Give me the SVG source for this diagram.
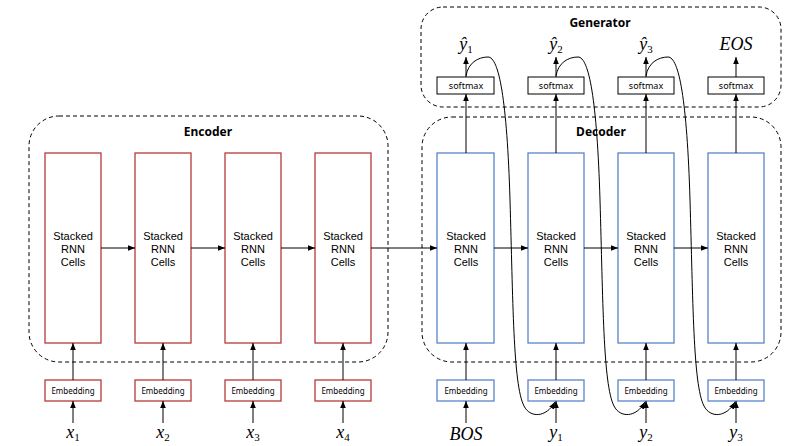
<svg xmlns="http://www.w3.org/2000/svg" width="800" height="446" viewBox="0 0 800 446">
<defs>
<marker id="ah" viewBox="0 0 10 10" refX="10" refY="5" markerWidth="7" markerHeight="7" markerUnits="userSpaceOnUse" orient="auto">
<path d="M0,1 L10,5 L0,9 z" fill="#000"/>
</marker>
<style>
.grp{fill:none;stroke:#000;stroke-width:1;stroke-dasharray:4,3}
.enc{fill:#fff;stroke:#b53a3a;stroke-width:1.3}
.dec{fill:#fff;stroke:#5a84c8;stroke-width:1.3}
.sm{fill:#fff;stroke:#000;stroke-width:1}
.t{font-family:"Liberation Sans",Arial,sans-serif;font-size:11px;text-anchor:middle;fill:#000}
.e{font-family:"Noto Sans","Open Sans",sans-serif;font-size:8px;text-anchor:middle;fill:#000}
.s{font-family:"Noto Sans","Open Sans",sans-serif;font-size:9px;text-anchor:middle;fill:#000}
.h{font-family:"Noto Sans","Open Sans",sans-serif;font-size:12px;font-weight:bold;text-anchor:middle;fill:#000}
.m{font-family:"Liberation Serif","DejaVu Serif",serif;font-style:italic;font-size:18px;text-anchor:middle;fill:#000}
.sub{font-size:11px;font-style:normal}
.c{fill:none;stroke:#000;stroke-width:1}
</style>
</defs>
<rect width="800" height="446" fill="#fff"/>

<g id="encoder-group">
<rect class="grp" x="29" y="116" width="359" height="246" rx="30"/>
<text class="h" x="208" y="136">Encoder</text>
</g>
<g id="decoder-group">
<rect class="grp" x="422" y="117" width="359" height="245" rx="30"/>
<text class="h" x="601" y="136">Decoder</text>
</g>
<g id="generator-group">
<rect class="grp" x="421" y="7" width="360" height="100" rx="22"/>
<text class="h" x="600" y="27">Generator</text>
</g>

<g id="enc1"><rect class="enc" x="45" y="153" width="56" height="190"/><text class="t" x="73" y="240">Stacked</text><text class="t" x="73" y="253">RNN</text><text class="t" x="73" y="266">Cells</text></g>
<g id="enc2"><rect class="enc" x="135" y="153" width="56" height="190"/><text class="t" x="163" y="240">Stacked</text><text class="t" x="163" y="253">RNN</text><text class="t" x="163" y="266">Cells</text></g>
<g id="enc3"><rect class="enc" x="225" y="153" width="56" height="190"/><text class="t" x="253" y="240">Stacked</text><text class="t" x="253" y="253">RNN</text><text class="t" x="253" y="266">Cells</text></g>
<g id="enc4"><rect class="enc" x="315" y="153" width="56" height="190"/><text class="t" x="343" y="240">Stacked</text><text class="t" x="343" y="253">RNN</text><text class="t" x="343" y="266">Cells</text></g>

<g id="dec1"><rect class="dec" x="437" y="153" width="57" height="190"/><text class="t" x="466" y="240">Stacked</text><text class="t" x="466" y="253">RNN</text><text class="t" x="466" y="266">Cells</text></g>
<g id="dec2"><rect class="dec" x="528" y="153" width="56" height="190"/><text class="t" x="556" y="240">Stacked</text><text class="t" x="556" y="253">RNN</text><text class="t" x="556" y="266">Cells</text></g>
<g id="dec3"><rect class="dec" x="618" y="153" width="56" height="190"/><text class="t" x="646" y="240">Stacked</text><text class="t" x="646" y="253">RNN</text><text class="t" x="646" y="266">Cells</text></g>
<g id="dec4"><rect class="dec" x="708" y="153" width="56" height="190"/><text class="t" x="736" y="240">Stacked</text><text class="t" x="736" y="253">RNN</text><text class="t" x="736" y="266">Cells</text></g>

<g id="emb-e1"><rect class="enc" x="45" y="380" width="56" height="21"/><text class="e" x="73" y="393.5">Embedding</text></g>
<g id="emb-e2"><rect class="enc" x="135" y="380" width="56" height="21"/><text class="e" x="163" y="393.5">Embedding</text></g>
<g id="emb-e3"><rect class="enc" x="225" y="380" width="56" height="21"/><text class="e" x="253" y="393.5">Embedding</text></g>
<g id="emb-e4"><rect class="enc" x="315" y="380" width="56" height="21"/><text class="e" x="343" y="393.5">Embedding</text></g>

<g id="emb-d1"><rect class="dec" x="437" y="380" width="57" height="21"/><text class="e" x="466" y="393.5">Embedding</text></g>
<g id="emb-d2"><rect class="dec" x="528" y="380" width="56" height="21"/><text class="e" x="556" y="393.5">Embedding</text></g>
<g id="emb-d3"><rect class="dec" x="618" y="380" width="56" height="21"/><text class="e" x="646" y="393.5">Embedding</text></g>
<g id="emb-d4"><rect class="dec" x="708" y="380" width="56" height="21"/><text class="e" x="736" y="393.5">Embedding</text></g>

<g id="sm1"><rect class="sm" x="437" y="77" width="57" height="17"/><text class="s" x="466" y="88.5">softmax</text></g>
<g id="sm2"><rect class="sm" x="528" y="77" width="56" height="17"/><text class="s" x="556" y="88.5">softmax</text></g>
<g id="sm3"><rect class="sm" x="618" y="77" width="56" height="17"/><text class="s" x="646" y="88.5">softmax</text></g>
<g id="sm4"><rect class="sm" x="708" y="77" width="56" height="17"/><text class="s" x="736" y="88.5">softmax</text></g>

<g id="labels">
<text class="m" x="73" y="438">x<tspan class="sub" dy="3">1</tspan></text>
<text class="m" x="163" y="438">x<tspan class="sub" dy="3">2</tspan></text>
<text class="m" x="253" y="438">x<tspan class="sub" dy="3">3</tspan></text>
<text class="m" x="343" y="438">x<tspan class="sub" dy="3">4</tspan></text>
<text class="m" x="466" y="440">BOS</text>
<text class="m" x="556" y="438">y<tspan class="sub" dy="3">1</tspan></text>
<text class="m" x="646" y="438">y<tspan class="sub" dy="3">2</tspan></text>
<text class="m" x="736" y="438">y<tspan class="sub" dy="3">3</tspan></text>
<text class="m" x="466" y="50">ŷ<tspan class="sub" dy="3">1</tspan></text>
<text class="m" x="556" y="50">ŷ<tspan class="sub" dy="3">2</tspan></text>
<text class="m" x="646" y="50">ŷ<tspan class="sub" dy="3">3</tspan></text>
<text class="m" x="736" y="50">EOS</text>
</g>

<g id="connectors" class="c" stroke="#000" fill="none">
<line x1="101" y1="248" x2="135" y2="248" marker-end="url(#ah)"/>
<line x1="191" y1="248" x2="225" y2="248" marker-end="url(#ah)"/>
<line x1="281" y1="248" x2="315" y2="248" marker-end="url(#ah)"/>
<line x1="371" y1="248" x2="437" y2="248" marker-end="url(#ah)"/>
<line x1="494" y1="248" x2="528" y2="248" marker-end="url(#ah)"/>
<line x1="584" y1="248" x2="618" y2="248" marker-end="url(#ah)"/>
<line x1="674" y1="248" x2="708" y2="248" marker-end="url(#ah)"/>

<line x1="73" y1="380" x2="73" y2="343" marker-end="url(#ah)"/>
<line x1="163" y1="380" x2="163" y2="343" marker-end="url(#ah)"/>
<line x1="253" y1="380" x2="253" y2="343" marker-end="url(#ah)"/>
<line x1="343" y1="380" x2="343" y2="343" marker-end="url(#ah)"/>
<line x1="466" y1="380" x2="466" y2="343" marker-end="url(#ah)"/>
<line x1="556" y1="380" x2="556" y2="343" marker-end="url(#ah)"/>
<line x1="646" y1="380" x2="646" y2="343" marker-end="url(#ah)"/>
<line x1="736" y1="380" x2="736" y2="343" marker-end="url(#ah)"/>

<line x1="73" y1="423" x2="73" y2="401" marker-end="url(#ah)"/>
<line x1="163" y1="423" x2="163" y2="401" marker-end="url(#ah)"/>
<line x1="253" y1="423" x2="253" y2="401" marker-end="url(#ah)"/>
<line x1="343" y1="423" x2="343" y2="401" marker-end="url(#ah)"/>
<line x1="466" y1="423" x2="466" y2="401" marker-end="url(#ah)"/>
<line x1="556" y1="423" x2="556" y2="401" marker-end="url(#ah)"/>
<line x1="646" y1="423" x2="646" y2="401" marker-end="url(#ah)"/>
<line x1="736" y1="423" x2="736" y2="401" marker-end="url(#ah)"/>

<line x1="466" y1="153" x2="466" y2="94" marker-end="url(#ah)"/>
<line x1="556" y1="153" x2="556" y2="94" marker-end="url(#ah)"/>
<line x1="646" y1="153" x2="646" y2="94" marker-end="url(#ah)"/>
<line x1="736" y1="153" x2="736" y2="94" marker-end="url(#ah)"/>

<line x1="466" y1="77" x2="466" y2="57" marker-end="url(#ah)"/>
<line x1="556" y1="77" x2="556" y2="57" marker-end="url(#ah)"/>
<line x1="646" y1="77" x2="646" y2="57" marker-end="url(#ah)"/>
<line x1="736" y1="77" x2="736" y2="57" marker-end="url(#ah)"/>

<path d="M466,76 C468,63 478,57 488,57 C499,57 507,100 510,200 C513,300 513,385 524,406 C530,418 546,418 555,402" marker-end="url(#ah)"/>
<path d="M556,76 C558,63 568,57 578,57 C589,57 597,100 600,200 C603,300 603,385 614,406 C620,418 636,418 645,402" marker-end="url(#ah)"/>
<path d="M646,76 C648,63 658,57 668,57 C679,57 687,100 690,200 C693,300 693,385 704,406 C710,418 726,418 735,402" marker-end="url(#ah)"/>
</g>
</svg>
